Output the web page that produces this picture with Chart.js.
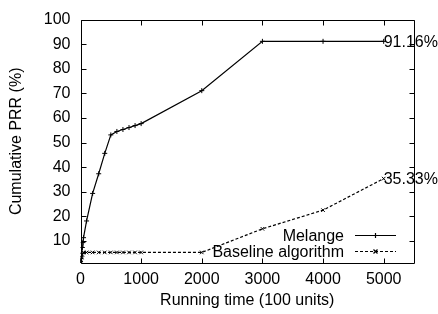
<!DOCTYPE html>
<html>
<head>
<meta charset="utf-8">
<script src="https://cdn.jsdelivr.net/npm/chart.js@4.4.1/dist/chart.umd.min.js"></script>
<style>
  html, body { margin: 0; padding: 0; background: #fff; }
  #wrap { width: 438px; height: 314px; }
</style>
</head>
<body>
<div id="wrap"><canvas id="c" width="438" height="314"></canvas></div>
<script>
// ---- data ----
const seriesNames = ['Melange', 'Baseline algorithm'];
const melangeX = [0, 10, 20, 30, 40, 50, 100, 200, 300, 400, 500, 600, 700, 800, 900, 1000, 2000, 3000, 4000, 5000];
const melangeY = [1.5, 3, 5, 7.3, 9.3, 11.3, 18.1, 29.3, 37.3, 45.6, 53.1, 54.5, 55.3, 56.1, 56.9, 57.7, 71.1, 91.16, 91.16, 91.16];
const baselineX = [0, 10, 20, 30, 50, 100, 200, 300, 400, 500, 600, 700, 800, 900, 1000, 2000, 3000, 4000, 5000];
const baselineY = [1.2, 2.2, 3.2, 4.3, 5.3, 5.3, 5.3, 5.3, 5.3, 5.3, 5.3, 5.3, 5.3, 5.3, 5.3, 5.3, 14.9, 22.5, 35.33];
const xTicks = [0, 1000, 2000, 3000, 4000, 5000];
const yTicks = [10, 20, 30, 40, 50, 60, 70, 80, 90, 100];
const endLabels = ['91.16%', '35.33%'];
const xTitle = 'Running time (100 units)';
const yTitle = 'Cumulative PRR (%)';

const FONT = '"Liberation Sans", Arial, Helvetica, sans-serif';
const FS = 16;

const toPts = (xs, ys) => xs.map((x, i) => ({ x: x, y: ys[i] }));

const boxPlugin = {
  id: 'gnuplotBox',
  afterDatasetsDraw(chart) {
    const ctx = chart.ctx;
    const a = chart.chartArea;
    const xs = chart.scales.x, ys = chart.scales.y;
    ctx.save();
    ctx.strokeStyle = '#000';
    ctx.lineWidth = 1;
    const L = Math.round(a.left) + 0.5, R = Math.round(a.right) + 0.5;
    const T = Math.round(a.top) + 0.5, B = Math.round(a.bottom) + 0.5;
    ctx.beginPath();
    ctx.rect(L, T, R - L, B - T);
    // inward ticks
    const tl = 5;
    xTicks.forEach(v => {
      const px = Math.round(xs.getPixelForValue(v)) + 0.5;
      ctx.moveTo(px, B); ctx.lineTo(px, B - tl);
      ctx.moveTo(px, T); ctx.lineTo(px, T + tl);
    });
    yTicks.forEach(v => {
      const py = Math.round(ys.getPixelForValue(v)) + 0.5;
      ctx.moveTo(L, py); ctx.lineTo(L + tl, py);
      ctx.moveTo(R, py); ctx.lineTo(R - tl, py);
    });
    ctx.stroke();

    // end labels
    ctx.fillStyle = '#000';
    ctx.font = FS + 'px ' + FONT;
    ctx.textAlign = 'left';
    ctx.textBaseline = 'middle';
    chart.data.datasets.forEach((ds, i) => {
      const last = ds.data[ds.data.length - 1];
      ctx.fillText(endLabels[i], xs.getPixelForValue(last.x), ys.getPixelForValue(last.y) + 1);
    });

    // legend (gnuplot style: right-aligned text, sample on right)
    const textRight = a.right - 70;
    const sampleL = a.right - 59, sampleR = a.right - 18;
    const rowY0 = a.bottom - 28, rowGap = 16;
    chart.data.datasets.forEach((ds, i) => {
      const y = Math.round(rowY0 + i * rowGap) + 0.5;
      ctx.fillStyle = '#000';
      ctx.textAlign = 'right';
      ctx.fillText(ds.label, textRight, y + 1);
      ctx.strokeStyle = ds.borderColor;
      ctx.lineWidth = ds.borderWidth;
      ctx.setLineDash(ds.borderDash || []);
      ctx.beginPath();
      ctx.moveTo(sampleL, y); ctx.lineTo(sampleR, y);
      ctx.stroke();
      ctx.setLineDash([]);
      const cx = (sampleL + sampleR) / 2;
      const r = ds.pointRadius;
      ctx.beginPath();
      if (ds.pointStyle === 'cross') {
        ctx.moveTo(cx - r, y); ctx.lineTo(cx + r, y);
        ctx.moveTo(cx, y - r); ctx.lineTo(cx, y + r);
      } else {
        ctx.moveTo(cx - r * 0.8, y - r * 0.8); ctx.lineTo(cx + r * 0.8, y + r * 0.8);
        ctx.moveTo(cx - r * 0.8, y + r * 0.8); ctx.lineTo(cx + r * 0.8, y - r * 0.8);
      }
      ctx.stroke();
    });
    ctx.restore();
  }
};

new Chart(document.getElementById('c'), {
  type: 'line',
  data: {
    datasets: [
      {
        label: seriesNames[0],
        data: toPts(melangeX, melangeY),
        borderColor: '#000',
        backgroundColor: '#000',
        borderWidth: 1.2,
        pointStyle: 'cross',
        pointRadius: 2.5,
        pointBorderWidth: 1,
        pointBorderColor: '#000',
        tension: 0,
        fill: false
      },
      {
        label: seriesNames[1],
        data: toPts(baselineX, baselineY),
        borderColor: '#000',
        backgroundColor: '#000',
        borderWidth: 1.2,
        borderDash: [3, 2],
        pointStyle: 'crossRot',
        pointRadius: 2.5,
        pointBorderWidth: 1,
        pointBorderColor: '#000',
        tension: 0,
        fill: false
      }
    ]
  },
  options: {
    responsive: false,
    animation: false,
    devicePixelRatio: 1,
    layout: { padding: { top: 15, right: 24, left: 0, bottom: 0 } },
    plugins: { legend: { display: false }, tooltip: { enabled: false } },
    scales: {
      x: {
        type: 'linear',
        min: 0, max: 5500,
        afterBuildTicks: s => { s.ticks = xTicks.map(v => ({ value: v })); },
        afterFit: s => { s.height = 51; },
        grid: { display: false, drawTicks: false },
        border: { display: false },
        ticks: { color: '#000', font: { family: FONT, size: FS }, padding: 7, maxRotation: 0, callback: v => String(v) },
        title: { display: true, text: xTitle, color: '#000', font: { family: FONT, size: FS }, padding: { top: 4, bottom: 4 } }
      },
      y: {
        type: 'linear',
        min: 1, max: 100,
        afterBuildTicks: s => { s.ticks = yTicks.map(v => ({ value: v })); },
        afterFit: s => { s.width = 80.5; },
        grid: { display: false, drawTicks: false },
        border: { display: false },
        ticks: { color: '#000', font: { family: FONT, size: FS }, padding: 10, callback: v => String(v) },
        title: { display: true, text: yTitle, color: '#000', font: { family: FONT, size: FS }, padding: { top: 7, bottom: 4 } }
      }
    }
  },
  plugins: [boxPlugin]
});
</script>
</body>
</html>
